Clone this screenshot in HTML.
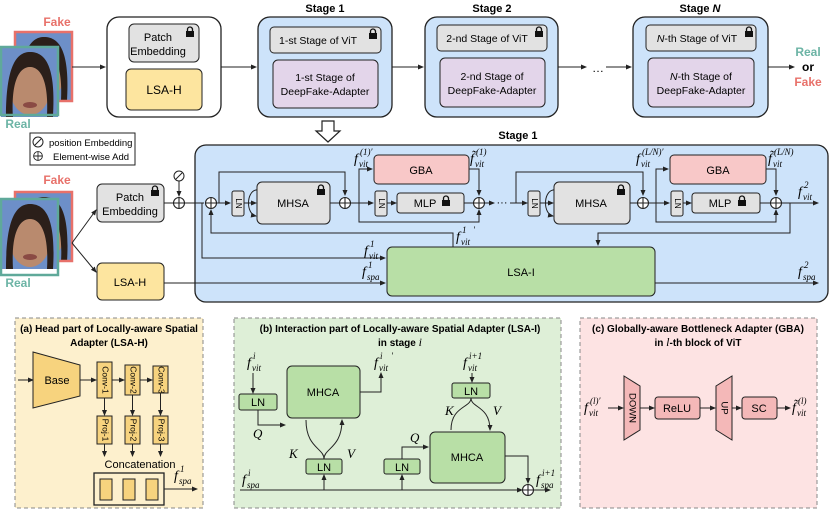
<!DOCTYPE html>
<html><head><meta charset="utf-8"><style>
html,body{margin:0;padding:0;background:#fff}
svg{display:block;font-family:"Liberation Sans",sans-serif}
.m{font-family:"Liberation Serif",serif;font-style:italic}
.f{font-size:14px}
.s{font-size:9px}
</style></head><body>
<svg width="830" height="512" viewBox="0 0 830 512" xmlns="http://www.w3.org/2000/svg">
<defs>
<marker id="a" markerWidth="6" markerHeight="6" refX="5" refY="3" orient="auto" markerUnits="userSpaceOnUse"><path d="M0,0.5 L6,3 L0,5.5z" fill="#222"/></marker>
<g id="lock"><path d="M1.5,4 V2.5 A2.5,2.5 0 0 1 6.5,2.5 V4" fill="none" stroke="#111" stroke-width="1.3"/><rect x="0" y="4" width="8" height="6" fill="#111"/></g>
<g id="plus"><circle r="5.5" fill="#fff" stroke="#222" stroke-width="1.1"/><path d="M-5.5,0H5.5M0,-5.5V5.5" stroke="#222" stroke-width="1.1"/></g>
<g id="face"><rect width="57" height="70" fill="#6d8fc8"/><ellipse cx="29" cy="42" rx="20" ry="26" fill="#b98a6e"/><path d="M5,70 C5,20 15,5 29,5 C45,5 55,20 52,70 L46,70 C48,35 40,20 29,20 C18,20 10,35 12,70z" fill="#2b1f1a"/><ellipse cx="29" cy="58" rx="7" ry="3" fill="#8a4a44"/></g>
</defs>

<!-- TOP ROW -->
<text x="57" y="26" font-size="12" font-weight="bold" fill="#e8716a" text-anchor="middle">Fake</text>
<g transform="translate(15,32)"><use href="#face"/><rect width="57" height="69" fill="none" stroke="#e8716a" stroke-width="2.5"/></g>
<g transform="translate(1,47)"><use href="#face"/><rect width="57" height="68" fill="none" stroke="#5fa99a" stroke-width="2.5"/></g>
<text x="18" y="128" font-size="12" font-weight="bold" fill="#6cb4a5" text-anchor="middle">Real</text>
<line x1="72" y1="67" x2="105" y2="67" stroke="#222" marker-end="url(#a)"/>
<rect x="107" y="17" width="114" height="100" rx="12" fill="#fff" stroke="#222" stroke-width="1.3"/>
<rect x="129" y="24" width="70" height="38" rx="5" fill="#e2e2e2" stroke="#222"/>
<text x="158" y="41" font-size="11" text-anchor="middle">Patch</text><text x="158" y="55" font-size="11" text-anchor="middle">Embedding</text>
<use href="#lock" x="186" y="27"/>
<rect x="126" y="69" width="76" height="41" rx="5" fill="#fde59f" stroke="#222"/>
<text x="164" y="94" font-size="12" text-anchor="middle">LSA-H</text>
<line x1="221" y1="67" x2="256" y2="67" stroke="#222" marker-end="url(#a)"/>

<text x="325" y="12" font-size="11" font-weight="bold" text-anchor="middle">Stage 1</text>
<rect x="258" y="17" width="134" height="100" rx="12" fill="#cde3fa" stroke="#222" stroke-width="1.3"/>
<rect x="270" y="27" width="111" height="26" rx="4" fill="#e2e2e2" stroke="#222"/>
<text x="318" y="44" font-size="10.5" text-anchor="middle">1-st Stage of ViT</text><use href="#lock" x="369" y="29"/>
<rect x="273" y="60" width="105" height="48" rx="5" fill="#e3d5ea" stroke="#222"/>
<text x="325" y="81" font-size="10.5" text-anchor="middle">1-st Stage of</text><text x="325" y="95" font-size="10.5" text-anchor="middle">DeepFake-Adapter</text>
<line x1="392" y1="67" x2="423" y2="67" stroke="#222" marker-end="url(#a)"/>

<text x="492" y="12" font-size="11" font-weight="bold" text-anchor="middle">Stage 2</text>
<rect x="425" y="17" width="133" height="100" rx="12" fill="#cde3fa" stroke="#222" stroke-width="1.3"/>
<rect x="437" y="25" width="110" height="26" rx="4" fill="#e2e2e2" stroke="#222"/>
<text x="487" y="42" font-size="10.5" text-anchor="middle">2-nd Stage of ViT</text><use href="#lock" x="535" y="27"/>
<rect x="440" y="58" width="105" height="49" rx="5" fill="#e3d5ea" stroke="#222"/>
<text x="492" y="80" font-size="10.5" text-anchor="middle">2-nd Stage of</text><text x="492" y="94" font-size="10.5" text-anchor="middle">DeepFake-Adapter</text>
<line x1="558" y1="67" x2="586" y2="67" stroke="#222" marker-end="url(#a)"/>
<text x="598" y="72" font-size="12" text-anchor="middle">…</text>
<line x1="606" y1="67" x2="631" y2="67" stroke="#222" marker-end="url(#a)"/>

<text x="700" y="12" font-size="11" font-weight="bold" text-anchor="middle">Stage <tspan font-style="italic">N</tspan></text>
<rect x="633" y="17" width="135" height="100" rx="12" fill="#cde3fa" stroke="#222" stroke-width="1.3"/>
<rect x="646" y="25" width="110" height="26" rx="4" fill="#e2e2e2" stroke="#222"/>
<text x="697" y="42" font-size="10.5" text-anchor="middle"><tspan font-style="italic">N</tspan>-th Stage of ViT</text><use href="#lock" x="745" y="27"/>
<rect x="648" y="58" width="106" height="49" rx="5" fill="#e3d5ea" stroke="#222"/>
<text x="701" y="80" font-size="10.5" text-anchor="middle"><tspan font-style="italic">N</tspan>-th Stage of</text><text x="701" y="94" font-size="10.5" text-anchor="middle">DeepFake-Adapter</text>
<line x1="768" y1="67" x2="794" y2="67" stroke="#222" marker-end="url(#a)"/>
<text x="808" y="56" font-size="12" font-weight="bold" fill="#6cb4a5" text-anchor="middle">Real</text>
<text x="808" y="71" font-size="12" font-weight="bold" text-anchor="middle">or</text>
<text x="808" y="86" font-size="12" font-weight="bold" fill="#e8716a" text-anchor="middle">Fake</text>

<path d="M322,121 H334 V131 H340 L328,142 L316,131 H322z" fill="#fff" stroke="#222" stroke-width="1.2"/>

<rect x="30" y="133" width="105" height="32" fill="#fff" stroke="#222"/>
<circle cx="38" cy="142" r="5" fill="#fff" stroke="#222"/><line x1="35" y1="145" x2="41" y2="139" stroke="#222"/>
<text x="49" y="146" font-size="9.5">position Embedding</text>
<use href="#plus" transform="translate(38,156) scale(0.8)"/>
<text x="53" y="160" font-size="9.5">Element-wise Add</text>

<!-- MIDDLE -->
<text x="57" y="184" font-size="12" font-weight="bold" fill="#e8716a" text-anchor="middle">Fake</text>
<g transform="translate(15,192)"><use href="#face"/><rect width="57" height="69" fill="none" stroke="#e8716a" stroke-width="2.5"/></g>
<g transform="translate(1,199)"><use href="#face"/><rect width="57" height="76" fill="none" stroke="#5fa99a" stroke-width="2.5"/></g>
<text x="18" y="287" font-size="12" font-weight="bold" fill="#6cb4a5" text-anchor="middle">Real</text>
<line x1="72" y1="243" x2="96" y2="210" stroke="#222" marker-end="url(#a)"/>
<line x1="72" y1="243" x2="96" y2="272" stroke="#222" marker-end="url(#a)"/>
<rect x="97" y="184" width="67" height="38" rx="5" fill="#e2e2e2" stroke="#222"/>
<text x="130" y="201" font-size="11" text-anchor="middle">Patch</text><text x="130" y="215" font-size="11" text-anchor="middle">Embedding</text>
<use href="#lock" x="151" y="186"/>
<rect x="97" y="263" width="67" height="37" rx="5" fill="#fde59f" stroke="#222"/>
<text x="130" y="286" font-size="11" text-anchor="middle">LSA-H</text>

<rect x="195" y="145" width="633" height="157" rx="11" fill="#cde3fa" stroke="#222" stroke-width="1.3"/>
<text x="518" y="139" font-size="11" font-weight="bold" text-anchor="middle">Stage 1</text>

<circle cx="179" cy="176" r="5" fill="#fff" stroke="#222"/><line x1="176" y1="179" x2="182" y2="173" stroke="#222"/>
<line x1="179" y1="181" x2="179" y2="196" stroke="#222" marker-end="url(#a)"/>
<line x1="164" y1="203" x2="204" y2="203" stroke="#222"/>
<use href="#plus" x="179" y="203"/>
<polyline points="202,203 202,258 385,258" fill="none" stroke="#222" marker-end="url(#a)"/>
<line x1="164" y1="283" x2="385" y2="283" stroke="#222" marker-end="url(#a)"/>
<polyline points="453,247 453,233 211,233 211,210" fill="none" stroke="#222" marker-end="url(#a)"/>
<use href="#plus" x="211" y="203"/>

<!-- block 1 -->
<line x1="217" y1="203" x2="230" y2="203" stroke="#222" marker-end="url(#a)"/>
<polyline points="219,203 219,172 345,172 345,195" fill="none" stroke="#222" marker-end="url(#a)"/>
<rect x="232" y="191" width="12" height="25" rx="2" fill="#e2e2e2" stroke="#222"/>
<text x="238" y="203.5" font-size="8" text-anchor="middle" transform="rotate(90 238 203.5)" dominant-baseline="middle">LN</text>
<line x1="244" y1="203" x2="256" y2="203" stroke="#222" marker-end="url(#a)"/>
<path d="M256,190 C246,192 246,214 256,216" fill="none" stroke="#222" marker-start="url(#a)" marker-end="url(#a)"/>
<rect x="257" y="182" width="73" height="42" rx="5" fill="#e2e2e2" stroke="#222"/>
<text x="293" y="207" font-size="11" text-anchor="middle">MHSA</text><use href="#lock" x="317" y="185"/>
<line x1="330" y1="203" x2="339" y2="203" stroke="#222"/>
<use href="#plus" x="345" y="203"/>
<line x1="351" y1="203" x2="373" y2="203" stroke="#222" marker-end="url(#a)"/>
<polyline points="359,203 359,169 372,169" fill="none" stroke="#222" marker-end="url(#a)"/>
<polyline points="359,203 359,222 479,222 479,210" fill="none" stroke="#222" marker-end="url(#a)"/>
<rect x="374" y="155" width="95" height="29" rx="4" fill="#f8c8c8" stroke="#222"/>
<text x="421" y="174" font-size="11" text-anchor="middle">GBA</text>
<polyline points="469,169 479,169 479,195" fill="none" stroke="#222" marker-end="url(#a)"/>
<rect x="375" y="191" width="12" height="25" rx="2" fill="#e2e2e2" stroke="#222"/>
<text x="381" y="203.5" font-size="8" text-anchor="middle" transform="rotate(90 381 203.5)" dominant-baseline="middle">LN</text>
<line x1="387" y1="203" x2="396" y2="203" stroke="#222" marker-end="url(#a)"/>
<rect x="397" y="193" width="67" height="20" rx="3" fill="#e2e2e2" stroke="#222"/>
<text x="425" y="207" font-size="11" text-anchor="middle">MLP</text><use href="#lock" x="442" y="196"/>
<line x1="464" y1="203" x2="473" y2="203" stroke="#222"/>
<use href="#plus" x="479" y="203"/>
<line x1="485" y1="203" x2="494" y2="203" stroke="#222" marker-end="url(#a)"/>
<text x="502" y="206" font-size="11" text-anchor="middle">···</text>
<line x1="510" y1="203" x2="527" y2="203" stroke="#222" marker-end="url(#a)"/>

<!-- block N -->
<polyline points="516,203 516,172 643,172 643,195" fill="none" stroke="#222" marker-end="url(#a)"/>
<rect x="528" y="191" width="12" height="25" rx="2" fill="#e2e2e2" stroke="#222"/>
<text x="534" y="203.5" font-size="8" text-anchor="middle" transform="rotate(90 534 203.5)" dominant-baseline="middle">LN</text>
<line x1="540" y1="203" x2="553" y2="203" stroke="#222" marker-end="url(#a)"/>
<path d="M553,190 C543,192 543,214 553,216" fill="none" stroke="#222" marker-start="url(#a)" marker-end="url(#a)"/>
<rect x="554" y="182" width="76" height="42" rx="5" fill="#e2e2e2" stroke="#222"/>
<text x="591" y="207" font-size="11" text-anchor="middle">MHSA</text><use href="#lock" x="617" y="185"/>
<line x1="630" y1="203" x2="637" y2="203" stroke="#222"/>
<use href="#plus" x="643" y="203"/>
<line x1="649" y1="203" x2="669" y2="203" stroke="#222" marker-end="url(#a)"/>
<polyline points="656,203 656,169 668,169" fill="none" stroke="#222" marker-end="url(#a)"/>
<polyline points="656,203 656,222 776,222 776,210" fill="none" stroke="#222" marker-end="url(#a)"/>
<rect x="670" y="155" width="96" height="29" rx="4" fill="#f8c8c8" stroke="#222"/>
<text x="718" y="174" font-size="11" text-anchor="middle">GBA</text>
<polyline points="766,169 776,169 776,195" fill="none" stroke="#222" marker-end="url(#a)"/>
<rect x="671" y="191" width="12" height="25" rx="2" fill="#e2e2e2" stroke="#222"/>
<text x="677" y="203.5" font-size="8" text-anchor="middle" transform="rotate(90 677 203.5)" dominant-baseline="middle">LN</text>
<line x1="683" y1="203" x2="691" y2="203" stroke="#222" marker-end="url(#a)"/>
<rect x="692" y="193" width="68" height="20" rx="3" fill="#e2e2e2" stroke="#222"/>
<text x="720" y="207" font-size="11" text-anchor="middle">MLP</text><use href="#lock" x="738" y="196"/>
<line x1="760" y1="203" x2="770" y2="203" stroke="#222"/>
<use href="#plus" x="776" y="203"/>
<line x1="782" y1="203" x2="818" y2="203" stroke="#222" marker-end="url(#a)"/>
<polyline points="790,203 790,233 598,233 598,245" fill="none" stroke="#222" marker-end="url(#a)"/>

<rect x="387" y="247" width="268" height="49" rx="5" fill="#b8dfa6" stroke="#222"/>
<text x="521" y="276" font-size="11" text-anchor="middle">LSA-I</text>
<line x1="655" y1="283" x2="818" y2="283" stroke="#222" marker-end="url(#a)"/>

<!-- math labels middle -->
<g class="m">
<text class="f" x="354" y="163">f</text><text class="s" x="359" y="167">vit</text><text class="s" x="360" y="155">(1)′</text>
<text class="f" x="470" y="163">f̃</text><text class="s" x="475" y="167">vit</text><text class="s" x="476" y="155">(1)</text>
<text class="f" x="636" y="163">f</text><text class="s" x="641" y="167">vit</text><text class="s" x="642" y="155">(L/N)′</text>
<text class="f" x="768" y="163">f̃</text><text class="s" x="773" y="167">vit</text><text class="s" x="774" y="155">(L/N)</text>
<text class="f" x="798" y="196">f</text><text class="s" x="803" y="200">vit</text><text class="s" x="804" y="188">2</text>
<text class="f" x="456" y="241">f</text><text class="s" x="461" y="245">vit</text><text class="s" x="462" y="233">1</text><text class="s" x="473" y="233">′</text>
<text class="f" x="364" y="255">f</text><text class="s" x="369" y="259">vit</text><text class="s" x="370" y="247">1</text>
<text class="f" x="362" y="276">f</text><text class="s" x="367" y="280">spa</text><text class="s" x="368" y="268">1</text>
<text class="f" x="798" y="276">f</text><text class="s" x="803" y="280">spa</text><text class="s" x="804" y="268">2</text>
</g>

<!-- PANEL A -->
<rect x="15" y="318" width="188" height="190" fill="#fdf0cd" stroke="#888" stroke-dasharray="4,3"/>
<text x="109" y="332" font-size="10" font-weight="bold" text-anchor="middle">(a) Head part of Locally-aware Spatial</text>
<text x="109" y="346" font-size="10" font-weight="bold" text-anchor="middle">Adapter (LSA-H)</text>
<line x1="18" y1="380" x2="33" y2="380" stroke="#222" marker-end="url(#a)"/>
<path d="M33,352 L80,365 L80,396 L33,408z" fill="#f7d37e" stroke="#222"/>
<text x="57" y="384" font-size="11" text-anchor="middle">Base</text>
<line x1="80" y1="380" x2="96" y2="380" stroke="#222" marker-end="url(#a)"/>
<rect x="97" y="362" width="15" height="36" fill="#f7d37e" stroke="#222"/>
<line x1="112" y1="380" x2="124" y2="380" stroke="#222" marker-end="url(#a)"/>
<rect x="125" y="365" width="15" height="30" fill="#f7d37e" stroke="#222"/>
<line x1="140" y1="380" x2="152" y2="380" stroke="#222" marker-end="url(#a)"/>
<rect x="153" y="366" width="15" height="27" fill="#f7d37e" stroke="#222"/>
<g font-size="8.5">
<text transform="translate(104.5,380) rotate(90)" text-anchor="middle" dominant-baseline="middle">Conv-1</text>
<text transform="translate(132.5,380) rotate(90)" text-anchor="middle" dominant-baseline="middle">Conv-2</text>
<text transform="translate(160.5,380) rotate(90)" text-anchor="middle" dominant-baseline="middle">Conv-3</text>
</g>
<line x1="104.5" y1="398" x2="104.5" y2="415" stroke="#222" marker-end="url(#a)"/>
<line x1="132.5" y1="395" x2="132.5" y2="415" stroke="#222" marker-end="url(#a)"/>
<line x1="160.5" y1="393" x2="160.5" y2="415" stroke="#222" marker-end="url(#a)"/>
<rect x="97" y="416" width="15" height="28" fill="#f7d37e" stroke="#222"/>
<rect x="125" y="416" width="15" height="28" fill="#f7d37e" stroke="#222"/>
<rect x="153" y="416" width="15" height="28" fill="#f7d37e" stroke="#222"/>
<g font-size="8.5">
<text transform="translate(104.5,430) rotate(90)" text-anchor="middle" dominant-baseline="middle">Proj-1</text>
<text transform="translate(132.5,430) rotate(90)" text-anchor="middle" dominant-baseline="middle">Proj-2</text>
<text transform="translate(160.5,430) rotate(90)" text-anchor="middle" dominant-baseline="middle">Proj-3</text>
</g>
<line x1="104.5" y1="444" x2="104.5" y2="456" stroke="#222" marker-end="url(#a)"/>
<line x1="132.5" y1="444" x2="132.5" y2="456" stroke="#222" marker-end="url(#a)"/>
<line x1="160.5" y1="444" x2="160.5" y2="456" stroke="#222" marker-end="url(#a)"/>
<text x="140" y="468" font-size="11" text-anchor="middle">Concatenation</text>
<rect x="94" y="473" width="70" height="32" fill="#fdf0cd" stroke="#222" stroke-width="1.3"/>
<rect x="100" y="479" width="12" height="21" fill="#f7d37e" stroke="#222"/>
<rect x="123" y="479" width="12" height="21" fill="#f7d37e" stroke="#222"/>
<rect x="146" y="479" width="12" height="21" fill="#f7d37e" stroke="#222"/>
<line x1="164" y1="489" x2="197" y2="489" stroke="#222" marker-end="url(#a)"/>
<g class="m"><text class="f" x="174" y="480">f</text><text class="s" x="179" y="484">spa</text><text class="s" x="180" y="472">1</text></g>

<!-- PANEL B -->
<rect x="234" y="318" width="327" height="190" fill="#deefd7" stroke="#888" stroke-dasharray="4,3"/>
<text x="400" y="332" font-size="10" font-weight="bold" text-anchor="middle">(b) Interaction part of Locally-aware Spatial Adapter (LSA-I)</text>
<text x="400" y="346" font-size="10" font-weight="bold" text-anchor="middle">in stage <tspan class="m" font-weight="normal" font-size="12">i</tspan></text>
<g class="m">
<text class="f" x="247" y="367">f</text><text class="s" x="252" y="371">vit</text><text class="s" x="253" y="359">i</text>
<text class="f" x="374" y="367">f</text><text class="s" x="379" y="371">vit</text><text class="s" x="380" y="359">i</text><text class="s" x="391" y="359">′</text>
<text class="f" x="463" y="367">f</text><text class="s" x="468" y="371">vit</text><text class="s" x="469" y="359">i+1</text>
<text class="f" x="242" y="484">f</text><text class="s" x="247" y="488">spa</text><text class="s" x="248" y="476">i</text>
<text class="f" x="536" y="484">f</text><text class="s" x="541" y="488">spa</text><text class="s" x="542" y="476">i+1</text>
<text x="253" y="438" font-size="13">Q</text><text x="289" y="458" font-size="13">K</text><text x="347" y="458" font-size="13">V</text>
<text x="445" y="415" font-size="13">K</text><text x="493" y="415" font-size="13">V</text><text x="410" y="442" font-size="13">Q</text>
</g>
<line x1="253" y1="373" x2="253" y2="393" stroke="#222" marker-end="url(#a)"/>
<rect x="239" y="394" width="38" height="16" rx="2" fill="#b8dfa6" stroke="#222"/>
<text x="258" y="406" font-size="11" text-anchor="middle">LN</text>
<polyline points="258,410 258,425 285,425" fill="none" stroke="#222" marker-end="url(#a)"/>
<rect x="287" y="366" width="73" height="52" rx="5" fill="#b8dfa6" stroke="#222"/>
<text x="323" y="396" font-size="11" text-anchor="middle">MHCA</text>
<polyline points="360,392 381,392 381,373" fill="none" stroke="#222" marker-end="url(#a)"/>
<rect x="306" y="459" width="36" height="15" rx="2" fill="#b8dfa6" stroke="#222"/>
<text x="324" y="471" font-size="11" text-anchor="middle">LN</text>
<path d="M324,459 C324,448 306,448 306,420 M324,459 C324,448 342,448 342,420" fill="none" stroke="#222" marker-end="url(#a)"/>
<line x1="240" y1="490" x2="522" y2="490" stroke="#222" marker-end="url(#a)"/>
<line x1="324" y1="490" x2="324" y2="475" stroke="#222" marker-end="url(#a)"/>
<line x1="402" y1="490" x2="402" y2="475" stroke="#222" marker-end="url(#a)"/>
<rect x="384" y="459" width="36" height="15" rx="2" fill="#b8dfa6" stroke="#222"/>
<text x="402" y="471" font-size="11" text-anchor="middle">LN</text>
<polyline points="402,459 402,447 428,447" fill="none" stroke="#222" marker-end="url(#a)"/>
<line x1="472" y1="373" x2="472" y2="382" stroke="#222" marker-end="url(#a)"/>
<rect x="452" y="383" width="38" height="15" rx="2" fill="#b8dfa6" stroke="#222"/>
<text x="471" y="395" font-size="11" text-anchor="middle">LN</text>
<path d="M471,398 C471,408 451,406 451,430 M471,398 C471,408 490,406 490,430" fill="none" stroke="#222" marker-end="url(#a)"/>
<rect x="430" y="432" width="75" height="51" rx="5" fill="#b8dfa6" stroke="#222"/>
<text x="467" y="461" font-size="11" text-anchor="middle">MHCA</text>
<polyline points="505,456 528,456 528,483" fill="none" stroke="#222" marker-end="url(#a)"/>
<use href="#plus" x="528" y="490"/>
<line x1="534" y1="490" x2="550" y2="490" stroke="#222" marker-end="url(#a)"/>

<!-- PANEL C -->
<rect x="580" y="318" width="237" height="190" fill="#fde3e3" stroke="#888" stroke-dasharray="4,3"/>
<text x="698" y="332" font-size="10" font-weight="bold" text-anchor="middle">(c) Globally-aware Bottleneck Adapter (GBA)</text>
<text x="698" y="346" font-size="10" font-weight="bold" text-anchor="middle">in <tspan class="m" font-weight="normal" font-size="12">l</tspan>-th block of ViT</text>
<g class="m"><text class="f" x="584" y="412">f</text><text class="s" x="589" y="416">vit</text><text class="s" x="590" y="404">(l)′</text></g>
<line x1="608" y1="408" x2="623" y2="408" stroke="#222" marker-end="url(#a)"/>
<path d="M624,376 L640,386 L640,430 L624,440z" fill="#f4b8b8" stroke="#222"/>
<text transform="translate(632,408) rotate(90)" font-size="9.5" text-anchor="middle" dominant-baseline="middle">DOWN</text>
<line x1="640" y1="408" x2="654" y2="408" stroke="#222" marker-end="url(#a)"/>
<rect x="655" y="397" width="45" height="22" rx="3" fill="#f4b8b8" stroke="#222"/>
<text x="677" y="412" font-size="11" text-anchor="middle">ReLU</text>
<line x1="700" y1="408" x2="715" y2="408" stroke="#222" marker-end="url(#a)"/>
<path d="M716,386 L732,376 L732,440 L716,430z" fill="#f4b8b8" stroke="#222"/>
<text transform="translate(724,408) rotate(90)" font-size="9.5" text-anchor="middle" dominant-baseline="middle">UP</text>
<line x1="732" y1="408" x2="741" y2="408" stroke="#222" marker-end="url(#a)"/>
<rect x="742" y="397" width="35" height="22" rx="3" fill="#f4b8b8" stroke="#222"/>
<text x="759" y="412" font-size="11" text-anchor="middle">SC</text>
<line x1="777" y1="408" x2="790" y2="408" stroke="#222" marker-end="url(#a)"/>
<g class="m"><text class="f" x="792" y="412">f̃</text><text class="s" x="797" y="416">vit</text><text class="s" x="798" y="404">(l)</text></g>
</svg>
</body></html>
